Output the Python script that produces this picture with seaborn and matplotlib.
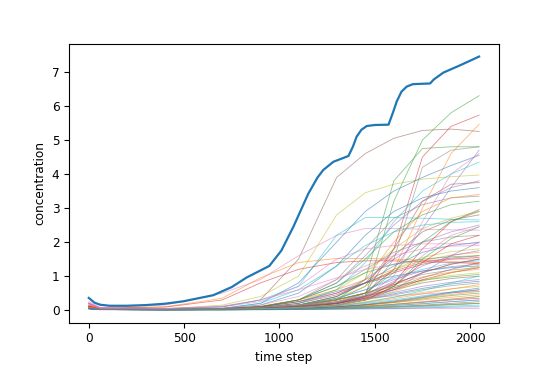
import matplotlib
matplotlib.use("Agg")
import matplotlib.pyplot as plt
import seaborn as sns
import pandas as pd

time_steps = [0, 60, 400, 700, 900, 1100, 1300, 1450, 1600, 1750, 1900, 2047]

# thin curves, one row per species
species_values = [
    [0.12, 0.04, 0.03, 0.05, 0.08, 0.15, 0.3, 0.5, 1.2, 3.0, 4.6, 5.46],
    [0.1, 0.03, 0.02, 0.03, 0.05, 0.1, 0.2, 0.4, 3.2, 5.0, 5.8, 6.3],
    [0.15, 0.05, 0.03, 0.05, 0.08, 0.15, 0.3, 0.5, 1.8, 4.5, 5.4, 5.73],
    [0.05, 0.02, 0.01, 0.02, 0.04, 0.08, 0.2, 0.5, 1.2, 2.4, 3.6, 4.7],
    [0.2, 0.06, 0.05, 0.1, 0.3, 1.5, 3.9, 4.6, 5.05, 5.28, 5.32, 5.25],
    [0.25, 0.08, 0.15, 0.5, 0.9, 1.6, 2.2, 2.4, 2.4, 2.38, 2.36, 2.35],
    [0.1, 0.03, 0.02, 0.03, 0.06, 0.1, 0.2, 0.4, 1.5, 4.2, 4.7, 4.8],
    [0.15, 0.05, 0.04, 0.15, 0.4, 1.0, 2.8, 3.45, 3.7, 3.85, 3.92, 3.97],
    [0.1, 0.04, 0.03, 0.1, 0.3, 0.7, 2.2, 2.72, 2.72, 2.7, 2.67, 2.65],
    [0.05, 0.02, 0.02, 0.05, 0.2, 0.8, 2.0, 2.9, 3.5, 3.9, 4.25, 4.55],
    [0.2, 0.06, 0.1, 0.35, 0.95, 1.4, 1.52, 1.52, 1.5, 1.47, 1.43, 1.4],
    [0.08, 0.03, 0.02, 0.03, 0.06, 0.12, 0.3, 0.9, 3.8, 4.75, 4.8, 4.8],
    [0.2, 0.06, 0.09, 0.3, 0.8, 1.2, 1.4, 1.45, 1.45, 1.42, 1.4, 1.37],
    [0.06, 0.02, 0.02, 0.04, 0.1, 0.3, 0.8, 1.6, 2.5, 3.2, 3.6, 3.8],
    [0.05, 0.02, 0.02, 0.03, 0.06, 0.12, 0.3, 0.7, 1.8, 3.2, 3.7, 3.75],
    [0.1, 0.03, 0.02, 0.03, 0.05, 0.1, 0.2, 0.4, 1.0, 2.6, 4.0, 4.6],
    [0.06, 0.02, 0.02, 0.04, 0.1, 0.3, 0.9, 1.8, 2.7, 3.1, 3.3, 3.35],
    [0.08, 0.03, 0.02, 0.04, 0.1, 0.25, 0.6, 1.1, 1.8, 2.4, 2.7, 2.9],
    [0.05, 0.02, 0.02, 0.03, 0.08, 0.2, 0.6, 1.4, 2.6, 3.5, 4.0, 4.35],
    [0.06, 0.02, 0.02, 0.05, 0.15, 0.5, 1.3, 2.2, 2.9, 3.3, 3.5, 3.6],
    [0.1, 0.03, 0.02, 0.03, 0.06, 0.15, 0.4, 0.9, 2.0, 2.9, 3.3, 3.4],
    [0.07, 0.02, 0.02, 0.04, 0.1, 0.3, 0.8, 1.5, 2.3, 2.8, 3.1, 3.2],
    [0.1, 0.03, 0.02, 0.03, 0.05, 0.1, 0.2, 0.35, 0.8, 1.8, 2.6, 2.95],
    [0.04, 0.02, 0.02, 0.03, 0.07, 0.2, 0.5, 0.9, 1.5, 2.0, 2.3, 2.5],
    [0.08, 0.03, 0.02, 0.03, 0.06, 0.15, 0.4, 0.8, 1.6, 2.3, 2.65, 2.8],
    [0.15, 0.05, 0.04, 0.1, 0.25, 0.7, 1.5, 1.8, 1.9, 1.95, 1.95, 1.95],
    [0.06, 0.02, 0.02, 0.04, 0.1, 0.3, 0.7, 1.2, 1.7, 2.0, 2.15, 2.2],
    [0.1, 0.03, 0.02, 0.03, 0.06, 0.15, 0.35, 0.7, 1.2, 1.55, 1.72, 1.8],
    [0.08, 0.03, 0.03, 0.06, 0.2, 0.6, 1.3, 1.9, 2.3, 2.5, 2.58, 2.6],
    [0.05, 0.02, 0.02, 0.03, 0.06, 0.15, 0.4, 0.8, 1.3, 1.7, 1.9, 2.0],
    [0.1, 0.03, 0.03, 0.05, 0.12, 0.3, 0.6, 0.9, 1.2, 1.45, 1.62, 1.7],
    [0.06, 0.02, 0.02, 0.03, 0.05, 0.1, 0.25, 0.5, 1.1, 2.0, 2.6, 2.9],
    [0.12, 0.04, 0.03, 0.05, 0.1, 0.25, 0.5, 0.8, 1.1, 1.35, 1.5, 1.55],
    [0.05, 0.02, 0.02, 0.03, 0.06, 0.15, 0.35, 0.6, 0.9, 1.15, 1.28, 1.35],
    [0.07, 0.02, 0.02, 0.04, 0.08, 0.2, 0.45, 0.8, 1.15, 1.4, 1.53, 1.6],
    [0.2, 0.06, 0.05, 0.12, 0.3, 0.6, 0.95, 1.2, 1.35, 1.45, 1.5, 1.5],
    [0.05, 0.02, 0.02, 0.03, 0.05, 0.12, 0.3, 0.5, 0.8, 1.05, 1.18, 1.25],
    [0.08, 0.03, 0.02, 0.03, 0.05, 0.1, 0.22, 0.4, 0.65, 0.88, 1.02, 1.1],
    [0.06, 0.02, 0.02, 0.03, 0.06, 0.15, 0.35, 0.6, 0.95, 1.2, 1.38, 1.45],
    [0.05, 0.02, 0.02, 0.04, 0.1, 0.25, 0.55, 0.8, 1.0, 1.15, 1.25, 1.3],
    [0.1, 0.03, 0.02, 0.03, 0.06, 0.14, 0.3, 0.5, 0.75, 0.98, 1.12, 1.2],
    [0.07, 0.02, 0.02, 0.03, 0.06, 0.15, 0.32, 0.5, 0.7, 0.88, 0.98, 1.05],
    [0.1, 0.03, 0.02, 0.03, 0.05, 0.1, 0.2, 0.4, 0.75, 1.1, 1.35, 1.5],
    [0.04, 0.02, 0.02, 0.03, 0.05, 0.1, 0.2, 0.35, 0.52, 0.7, 0.82, 0.9],
    [0.06, 0.02, 0.02, 0.03, 0.05, 0.12, 0.25, 0.42, 0.6, 0.8, 0.93, 1.0],
    [0.22, 0.07, 0.04, 0.05, 0.08, 0.15, 0.25, 0.35, 0.42, 0.48, 0.52, 0.55],
    [0.05, 0.02, 0.02, 0.03, 0.05, 0.1, 0.18, 0.3, 0.45, 0.6, 0.72, 0.8],
    [0.08, 0.03, 0.02, 0.03, 0.04, 0.08, 0.15, 0.25, 0.38, 0.52, 0.63, 0.7],
    [0.06, 0.02, 0.02, 0.02, 0.04, 0.07, 0.12, 0.2, 0.3, 0.42, 0.53, 0.6],
    [0.05, 0.02, 0.02, 0.03, 0.05, 0.1, 0.2, 0.32, 0.48, 0.64, 0.77, 0.85],
    [0.1, 0.03, 0.02, 0.02, 0.03, 0.06, 0.1, 0.15, 0.22, 0.3, 0.38, 0.45],
    [0.06, 0.02, 0.01, 0.02, 0.03, 0.05, 0.09, 0.15, 0.23, 0.33, 0.43, 0.5],
    [0.1, 0.03, 0.02, 0.02, 0.03, 0.05, 0.08, 0.12, 0.17, 0.23, 0.3, 0.35],
    [0.04, 0.01, 0.01, 0.02, 0.03, 0.05, 0.07, 0.1, 0.14, 0.19, 0.25, 0.3],
    [0.06, 0.02, 0.01, 0.02, 0.02, 0.04, 0.06, 0.08, 0.11, 0.15, 0.2, 0.25],
    [0.2, 0.06, 0.02, 0.02, 0.02, 0.03, 0.03, 0.04, 0.04, 0.05, 0.05, 0.05],
    [0.05, 0.02, 0.01, 0.01, 0.02, 0.03, 0.05, 0.07, 0.09, 0.12, 0.16, 0.2],
    [0.08, 0.02, 0.01, 0.02, 0.03, 0.05, 0.08, 0.12, 0.18, 0.25, 0.33, 0.4],
    [0.06, 0.02, 0.01, 0.01, 0.02, 0.03, 0.04, 0.06, 0.08, 0.1, 0.12, 0.15],
    [0.05, 0.02, 0.01, 0.01, 0.02, 0.03, 0.05, 0.07, 0.1, 0.13, 0.17, 0.2],
    [0.1, 0.03, 0.02, 0.02, 0.03, 0.05, 0.09, 0.15, 0.24, 0.35, 0.46, 0.55],
    [0.07, 0.02, 0.02, 0.03, 0.04, 0.08, 0.15, 0.3, 0.7, 1.5, 2.1, 2.45],
    [0.12, 0.04, 0.02, 0.03, 0.05, 0.1, 0.2, 0.35, 0.6, 0.9, 1.1, 1.25],
    [0.04, 0.02, 0.02, 0.03, 0.05, 0.1, 0.22, 0.45, 0.85, 1.3, 1.6, 1.75],
    [0.06, 0.02, 0.01, 0.02, 0.03, 0.05, 0.1, 0.16, 0.25, 0.37, 0.5, 0.6],
    [0.18, 0.05, 0.03, 0.06, 0.15, 0.4, 0.9, 1.3, 1.6, 1.8, 1.88, 1.9],
    [0.05, 0.02, 0.02, 0.03, 0.05, 0.1, 0.22, 0.42, 0.75, 1.1, 1.35, 1.5],
    [0.08, 0.02, 0.01, 0.01, 0.02, 0.03, 0.05, 0.07, 0.1, 0.13, 0.17, 0.2],
    [0.06, 0.02, 0.01, 0.02, 0.02, 0.04, 0.07, 0.1, 0.14, 0.19, 0.25, 0.3],
    [0.05, 0.02, 0.01, 0.02, 0.03, 0.06, 0.1, 0.17, 0.27, 0.39, 0.53, 0.65],
    [0.1, 0.03, 0.02, 0.02, 0.04, 0.07, 0.13, 0.22, 0.34, 0.48, 0.62, 0.75],
    [0.07, 0.02, 0.02, 0.04, 0.1, 0.3, 0.7, 1.1, 1.35, 1.5, 1.57, 1.6],
    [0.1, 0.03, 0.02, 0.03, 0.04, 0.08, 0.15, 0.3, 0.7, 1.4, 1.95, 2.2],
    [0.04, 0.02, 0.02, 0.02, 0.04, 0.08, 0.15, 0.3, 0.6, 1.1, 1.6, 2.0],
    [0.06, 0.02, 0.02, 0.03, 0.05, 0.1, 0.2, 0.38, 0.65, 0.95, 1.2, 1.4],
    [0.15, 0.05, 0.02, 0.03, 0.04, 0.07, 0.14, 0.3, 0.8, 1.6, 2.2, 2.45],
    [0.05, 0.02, 0.01, 0.01, 0.02, 0.04, 0.07, 0.11, 0.17, 0.24, 0.32, 0.4],
    [0.08, 0.02, 0.02, 0.03, 0.04, 0.08, 0.16, 0.3, 0.55, 0.85, 1.1, 1.3],
    [0.06, 0.02, 0.02, 0.02, 0.03, 0.07, 0.13, 0.23, 0.38, 0.57, 0.8, 1.0],
    [0.05, 0.02, 0.01, 0.01, 0.01, 0.02, 0.03, 0.04, 0.05, 0.07, 0.09, 0.1],
]

# thick total curve
total_steps = [0, 30, 60, 110, 200, 300, 400, 495, 653, 750, 828, 947, 1010,
               1073, 1152, 1200, 1230, 1283, 1362, 1385, 1405, 1430, 1458, 1500,
               1572, 1595, 1615, 1640, 1668, 1700, 1790, 1810, 1860, 1950, 2047]
total_values = [0.36, 0.22, 0.16, 0.13, 0.13, 0.15, 0.19, 0.26, 0.44, 0.68, 0.96,
                1.30, 1.75, 2.45, 3.43, 3.90, 4.12, 4.36, 4.53, 4.80, 5.10, 5.30,
                5.41, 5.44, 5.45, 5.80, 6.13, 6.42, 6.57, 6.64, 6.66, 6.78, 6.98,
                7.20, 7.45]

rows = []
for k, vals in enumerate(species_values):
    for t, v in zip(time_steps, vals):
        rows.append({"species": k, "time step": t, "concentration": v})
df = pd.DataFrame(rows)

tab10 = sns.color_palette("tab10", 10)
palette = [tab10[(k + 1) % 10] for k in range(len(species_values))]

plt.rcParams["font.size"] = 8.7
fig, ax = plt.subplots(figsize=(5.54, 3.69), dpi=100)
fig.subplots_adjust(left=0.125, right=0.9, top=0.881, bottom=0.126)

sns.lineplot(data=df, x="time step", y="concentration", hue="species",
             palette=palette, legend=False, linewidth=0.6, alpha=0.55,
             estimator=None, ax=ax)
sns.lineplot(x=total_steps, y=total_values, color=tab10[0], linewidth=1.6, ax=ax)

ax.set_xlabel("time step")
ax.set_ylabel("concentration")
ax.set_xticks([0, 500, 1000, 1500, 2000])

plt.savefig("out.png", dpi=100)
